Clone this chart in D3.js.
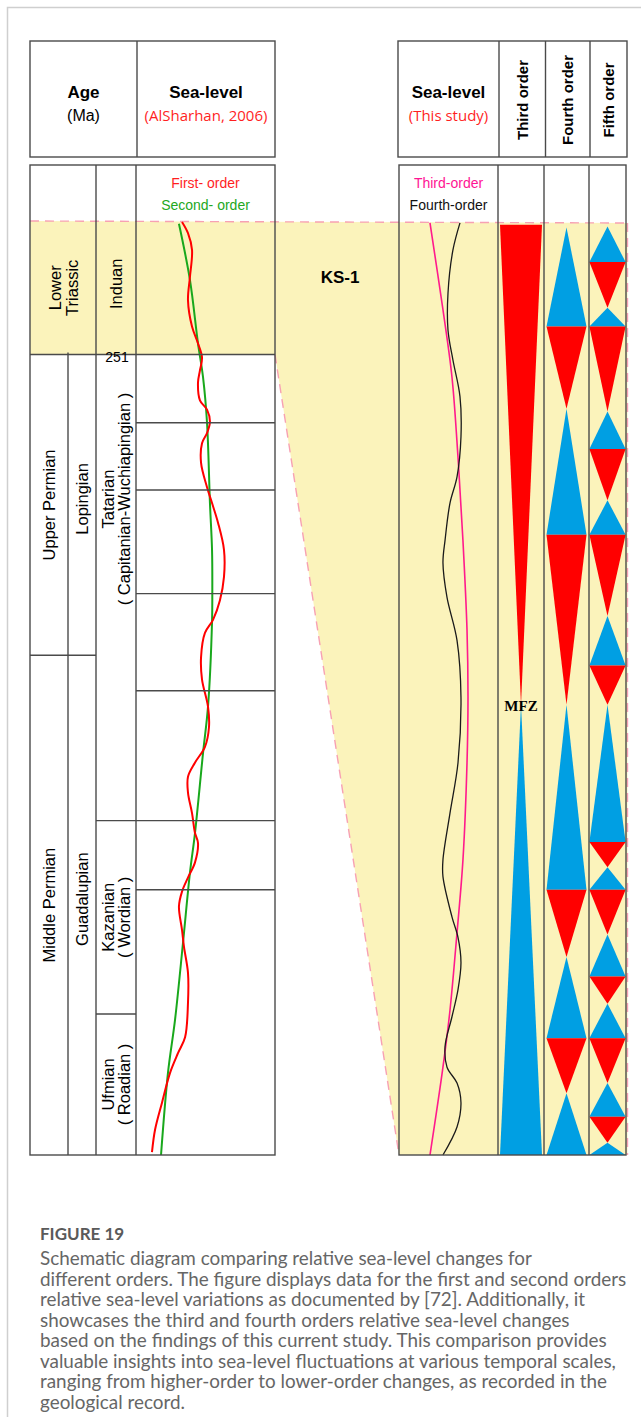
<!DOCTYPE html>
<html>
<head>
<meta charset="utf-8">
<script src="https://cdn.jsdelivr.net/npm/d3@7"></script>
<style>
  body { margin: 0; background: #fff; }
  svg { display: block; }
</style>
</head>
<body>
<svg id="chart" width="641" height="1417"></svg>
<script>
// Stratigraphic position: 0 = top of the studied interval, 100 = its base.
const seriesUnits = [
  { name: ["Lower", "Triassic"], top: 0, base: 14.3, spansEpoch: true },
  { name: ["Upper Permian"], top: 14.3, base: 46.5 },
  { name: ["Middle Permian"], top: 46.5, base: 100 }
];
const epochUnits = [
  { name: ["Lopingian"], top: 14.3, base: 46.5 },
  { name: ["Guadalupian"], top: 46.5, base: 100 }
];
const stageUnits = [
  { name: ["Induan"], top: 0, base: 14.3 },
  { name: ["Tatarian", "( Capitanian-Wuchiapingian )"], top: 14.3, base: 64.2 },
  { name: ["Kazanian", "( Wordian )"], top: 64.2, base: 84.9 },
  { name: ["Ufmian", "( Roadian )"], top: 84.9, base: 100 }
];
const ageTicks = [{ label: "251", pos: 14.3 }];
const alsharhanBeds = [14.3, 21.6, 28.8, 39.9, 50.3, 64.2, 71.6];

// AlSharhan (2006) sea-level curves: [position, relative level 0-100]
const firstOrder = [
  [0.1, 33.1], [1.3, 37.4], [3.1, 40.3], [6.0, 38.8], [8.5, 37.4], [11.3, 40.3],
  [13.1, 44.6], [14.6, 47.5], [16.0, 46.0], [17.3, 44.6], [19.2, 46.0], [20.2, 51.1],
  [21.5, 53.2], [22.7, 51.1], [23.8, 47.5], [25.9, 46.8], [28.5, 51.1], [30.2, 54.7],
  [32.3, 59.0], [35.2, 63.3], [38.1, 63.3], [40.6, 60.4], [42.7, 55.4], [44.1, 49.6],
  [46.7, 46.8], [49.1, 47.5], [52.0, 51.8], [54.2, 52.5], [56.3, 49.6], [58.0, 42.4],
  [59.5, 37.4], [61.2, 37.4], [63.4, 40.3], [65.5, 42.4], [66.6, 44.6], [68.7, 42.4],
  [70.3, 37.4], [71.8, 33.1], [73.4, 30.9], [75.9, 33.1], [77.7, 34.5], [80.5, 37.4],
  [83.7, 37.4], [87.4, 35.3], [89.1, 30.2], [91.2, 24.5], [94.4, 18.7], [97.3, 13.7],
  [99.7, 11.5]
];
const secondOrder = [
  [0.3, 30.9], [6.3, 38.8], [13.1, 44.6], [16.7, 48.2], [21.6, 51.1], [30.2, 53.2],
  [35.2, 54.7], [39.9, 54.9], [42.9, 54.7], [52.0, 51.8], [57.0, 48.2], [65.6, 42.4],
  [69.8, 38.8], [77.3, 33.8], [85.5, 28.1], [91.2, 23.0], [100, 18.0]
];

// Sea-level curves of this study: [position, relative level 0-100]
const thirdOrderCurve = [
  [0.2, 31.3], [9.5, 44.4], [16.7, 53.5], [25.3, 59.6], [34.2, 64.6], [43.8, 68.7],
  [51.0, 69.7], [58.0, 68.7], [68.4, 64.6], [76.2, 58.6], [84.5, 51.5], [90.6, 44.4],
  [100, 31.3]
];
const fourthOrderCurve = [
  [0.2, 61.6], [3.1, 54.5], [7.7, 49.5], [11.7, 49.5], [14.9, 54.5], [18.8, 61.6],
  [23.1, 62.6], [27.4, 58.6], [30.2, 51.5], [34.2, 46.5], [36.6, 44.4], [40.3, 48.5],
  [44.9, 58.6], [51.0, 62.6], [58.0, 59.6], [63.4, 51.5], [68.4, 44.4], [70.2, 44.4],
  [74.5, 53.5], [76.7, 59.6], [79.4, 62.6], [82.3, 59.6], [85.2, 53.5], [88.4, 46.5],
  [90.6, 48.5], [92.3, 58.6], [94.4, 62.6], [97.0, 58.6], [100, 44.4]
];

// Cycles: T = transgressive (apex at top), R = regressive (apex at base)
const thirdOrderCycles = [["R", 0.4, 51.8], ["T", 51.8, 100]];
const fourthOrderCycles = [
  ["T", 0.7, 11.3], ["R", 11.3, 20.1], ["T", 20.1, 33.6], ["R", 33.6, 51.8],
  ["T", 51.8, 71.6], ["R", 71.6, 78.8], ["T", 78.8, 87.5], ["R", 87.5, 93.4],
  ["T", 93.4, 100]
];
const fifthOrderCycles = [
  ["T", 0.6, 4.4], ["R", 4.4, 9.3], ["T", 9.3, 11.3], ["R", 11.3, 20.4],
  ["T", 20.4, 24.4], ["R", 24.4, 29.9], ["T", 29.9, 33.6], ["R", 33.6, 42.3],
  ["T", 42.3, 47.6], ["R", 47.6, 51.8], ["T", 51.8, 66.5], ["R", 66.5, 69.2],
  ["T", 69.2, 71.6], ["R", 71.6, 76.4], ["T", 76.4, 80.9], ["R", 80.9, 83.8],
  ["T", 83.8, 87.5], ["R", 87.5, 92.3], ["T", 92.3, 95.9], ["R", 95.9, 98.7],
  ["T", 98.7, 100]
];
const mfzPos = 51.8;

const captionTitle = "FIGURE 19";
const captionLines = [
  "Schematic diagram comparing relative sea-level changes for",
  "different orders. The figure displays data for the first and second orders",
  "relative sea-level variations as documented by [72]. Additionally, it",
  "showcases the third and fourth orders relative sea-level changes",
  "based on the findings of this current study. This comparison provides",
  "valuable insights into sea-level fluctuations at various temporal scales,",
  "ranging from higher-order to lower-order changes, as recorded in the",
  "geological record."
];

// ---------- layout ----------
const SANS = "'Liberation Sans', Arial, sans-serif";
const LINE = "#4a4a4a";
const YELLOW = "#fbf3bb";
const PINK = "#f7a1b3";
const RED = "#ff0000";
const BLUE = "#009fe3";

const L = { x0: 30, xEpoch: 68, xStage: 96, xSea: 136, x1: 275, top: 165, bottom: 1155 };
const R = { x0: 399, x1: 498, x2: 544, x3: 589, x4: 626, top: 165, bottom: 1155 };
const HEAD = { top: 41, bottom: 157 };

const y = d3.scaleLinear().domain([0, 100]).range([221, 1155]);
const xLeft = d3.scaleLinear().domain([0, 100]).range([L.xSea, L.x1]);
const xRight = d3.scaleLinear().domain([0, 100]).range([R.x0, R.x1]);

const svg = d3.select("#chart");
svg.append("rect").attr("width", 641).attr("height", 1417).attr("fill", "#fff");

// page frame
svg.append("path")
  .attr("d", "M641,7.5 H7.5 V1417")
  .attr("fill", "none").attr("stroke", "#cfcfcf").attr("stroke-width", 1.5);

// highlighted interval (Lower Triassic correlated into the KS-1 section)
const topY = y(0), trY = y(seriesUnits[0].base), baseY = y(100);
const xEdge = R.x4 + 1.5;
svg.append("polygon")
  .attr("points", [
    [L.x0, topY], [xEdge, topY + 2], [xEdge, baseY], [R.x0, baseY],
    [L.x1, trY], [L.x0, trY]
  ].map(p => p.join(",")).join(" "))
  .attr("fill", YELLOW);

const dash = svg.append("g").attr("fill", "none").attr("stroke", PINK)
  .attr("stroke-width", 1.4).attr("stroke-dasharray", "9,6");
dash.append("line").attr("x1", L.x0).attr("y1", topY).attr("x2", xEdge).attr("y2", topY + 2);
dash.append("line").attr("x1", L.x1).attr("y1", trY).attr("x2", R.x0).attr("y2", baseY);
dash.append("line").attr("x1", xEdge).attr("y1", topY + 2).attr("x2", xEdge).attr("y2", baseY);

// ---------- cycle triangles ----------
function drawCycles(cycles, left, right, pad) {
  const cx = (left + right) / 2, hw = (right - left) / 2 - pad;
  svg.append("g").selectAll("polygon").data(cycles).join("polygon")
    .attr("fill", d => d[0] === "T" ? BLUE : RED)
    .attr("points", d => {
      const t = y(d[1]), b = y(d[2]);
      const pts = d[0] === "T"
        ? [[cx, t], [cx - hw, b], [cx + hw, b]]
        : [[cx - hw, t], [cx + hw, t], [cx, b]];
      return pts.map(p => p.join(",")).join(" ");
    });
}
drawCycles(thirdOrderCycles, R.x1, R.x2, 2);
drawCycles(fourthOrderCycles, R.x2, R.x3, 2.5);
drawCycles(fifthOrderCycles, R.x3, R.x4, 0.4);

// ---------- curves ----------
const curveLeft = d3.line().x(d => xLeft(d[1])).y(d => y(d[0])).curve(d3.curveCatmullRom.alpha(0.5));
const curveRight = d3.line().x(d => xRight(d[1])).y(d => y(d[0])).curve(d3.curveCatmullRom.alpha(0.5));

svg.append("path").datum(secondOrder).attr("d", curveLeft)
  .attr("fill", "none").attr("stroke", "#19a81c").attr("stroke-width", 2);
svg.append("path").datum(firstOrder).attr("d", curveLeft)
  .attr("fill", "none").attr("stroke", RED).attr("stroke-width", 2);
svg.append("path").datum(thirdOrderCurve).attr("d", curveRight)
  .attr("fill", "none").attr("stroke", "#ff1a8c").attr("stroke-width", 1.6);
svg.append("path").datum(fourthOrderCurve).attr("d", curveRight)
  .attr("fill", "none").attr("stroke", "#1a1a1a").attr("stroke-width", 1.3);

// ---------- table grid ----------
const grid = svg.append("g").attr("stroke", LINE).attr("stroke-width", 1.4).attr("fill", "none");

// header boxes
grid.append("rect").attr("x", L.x0).attr("y", HEAD.top).attr("width", L.x1 - L.x0).attr("height", HEAD.bottom - HEAD.top);
grid.append("line").attr("x1", 137).attr("x2", 137).attr("y1", HEAD.top).attr("y2", HEAD.bottom);
grid.append("rect").attr("x", R.x0 - 1).attr("y", HEAD.top).attr("width", R.x4 - R.x0 + 2).attr("height", HEAD.bottom - HEAD.top);
[R.x1 + 1, R.x2 + 1.5, R.x3 + 1].forEach(x =>
  grid.append("line").attr("x1", x).attr("x2", x).attr("y1", HEAD.top).attr("y2", HEAD.bottom));

// left table
grid.append("rect").attr("x", L.x0).attr("y", L.top).attr("width", L.x1 - L.x0).attr("height", L.bottom - L.top);
[L.xStage, L.xSea].forEach(x =>
  grid.append("line").attr("x1", x).attr("x2", x).attr("y1", L.top).attr("y2", L.bottom));
grid.append("line").attr("x1", L.xEpoch).attr("x2", L.xEpoch)
  .attr("y1", y(epochUnits[0].top) - 2).attr("y2", L.bottom);
seriesUnits.slice(0, -1).forEach(u =>
  grid.append("line").attr("x1", L.x0).attr("x2", L.xStage).attr("y1", y(u.base)).attr("y2", y(u.base)));
stageUnits.slice(0, -1).forEach(u =>
  grid.append("line").attr("x1", L.xStage).attr("x2", L.xSea).attr("y1", y(u.base)).attr("y2", y(u.base)));
alsharhanBeds.forEach(p =>
  grid.append("line").attr("x1", L.xSea).attr("x2", L.x1).attr("y1", y(p)).attr("y2", y(p)));

// right table
grid.append("rect").attr("x", R.x0).attr("y", R.top).attr("width", R.x4 - R.x0).attr("height", R.bottom - R.top);
[R.x1, R.x2, R.x3].forEach(x =>
  grid.append("line").attr("x1", x).attr("x2", x).attr("y1", R.top).attr("y2", R.bottom));

// ---------- text ----------
function txt(x, yy, s, opts = {}) {
  return svg.append("text")
    .attr("x", x).attr("y", yy)
    .attr("text-anchor", opts.anchor || "middle")
    .attr("font-family", opts.family || SANS)
    .attr("font-size", opts.size || 14)
    .attr("font-weight", opts.weight || "normal")
    .attr("fill", opts.fill || "#000")
    .text(s);
}
function rotatedLabel(cx, cy, lines, size, gap) {
  const g = svg.append("g").attr("transform", `translate(${cx},${cy}) rotate(-90)`);
  lines.forEach((s, i) => {
    g.append("text")
      .attr("x", 0).attr("y", (i - (lines.length - 1) / 2) * gap)
      .attr("dominant-baseline", "central")
      .attr("text-anchor", "middle")
      .attr("font-family", SANS).attr("font-size", size)
      .attr("fill", "#000")
      .text(s);
  });
}

// headers
txt((L.x0 + 137) / 2, 98, "Age", { size: 17, weight: "bold" });
txt((L.x0 + 137) / 2, 121, "(Ma)", { size: 16 });
txt((137 + L.x1) / 2, 98, "Sea-level", { size: 17, weight: "bold" });
txt((137 + L.x1) / 2, 121, "(AlSharhan, 2006)", { size: 15, fill: "#ff1f1f", family: "'Open Sans', sans-serif" });
txt((R.x0 + R.x1) / 2, 98, "Sea-level", { size: 17, weight: "bold" });
txt((R.x0 + R.x1) / 2, 121, "(This study)", { size: 15, fill: "#ff1f1f", family: "'Open Sans', sans-serif" });

[["Third order", R.x1 + 1, R.x2 + 1.5], ["Fourth order", R.x2 + 1.5, R.x3 + 1], ["Fifth order", R.x3 + 1, R.x4 + 1]]
  .forEach(([s, a, b]) => {
    svg.append("text")
      .attr("transform", `translate(${(a + b) / 2 + 5.5},100) rotate(-90)`)
      .attr("text-anchor", "middle")
      .attr("font-family", SANS).attr("font-size", 15).attr("font-weight", "bold")
      .text(s);
  });

// legends
txt((L.xSea + L.x1) / 2, 188, "First- order", { size: 14, fill: "#ff1f1f" });
txt((L.xSea + L.x1) / 2, 210, "Second- order", { size: 14, fill: "#23a823" });
txt((R.x0 + R.x1) / 2, 188, "Third-order", { size: 14, fill: "#ff1493" });
txt((R.x0 + R.x1) / 2, 210, "Fourth-order", { size: 14, fill: "#111" });

// chronostratigraphic labels
seriesUnits.forEach(u => {
  const right = u.spansEpoch ? L.xStage : L.xEpoch;
  rotatedLabel((L.x0 + right) / 2, (y(u.top) + y(u.base)) / 2, u.name, 16.5, 17);
});
epochUnits.forEach(u => {
  rotatedLabel((L.xEpoch + L.xStage) / 2, (y(u.top) + y(u.base)) / 2 - 6, u.name, 16.5, 17);
});
// Tatarian's label sits in the upper part of its tall cell
const stageAnchor = { Tatarian: 0.31 };
stageUnits.forEach(u => {
  const f = stageAnchor[u.name[0]] ?? 0.5;
  const cy = y(u.top) + (y(u.base) - y(u.top)) * f;
  rotatedLabel((L.xStage + L.xSea) / 2, u.name[0] === "Induan" ? cy - 4 : cy, u.name, 16.5, 16.5);
});
ageTicks.forEach(t => txt((L.xStage + L.xSea) / 2 + 1, y(t.pos) + 7, t.label, { size: 14 }));

txt(340, 283, "KS-1", { size: 17, weight: "bold" });
txt((R.x1 + R.x2) / 2, y(mfzPos) + 6, "MFZ", { size: 15, weight: "bold", family: "'Liberation Serif', 'Times New Roman', serif" });

// ---------- caption ----------
const cap = svg.append("g").attr("font-family", "Lato, 'Open Sans', sans-serif").attr("fill", "#666");
const probe = cap.append("text").attr("font-size", 16).text(captionLines[1]);
const capSize = 16 * 587 / probe.node().getComputedTextLength();
probe.remove();
cap.append("text").attr("x", 40).attr("y", 1240)
  .attr("font-size", 17).attr("font-weight", 700).attr("fill", "#5a5a5a")
  .text(captionTitle);
captionLines.forEach((s, i) => {
  cap.append("text").attr("x", 40).attr("y", 1265 + i * 20.5)
    .attr("font-size", capSize).text(s);
});
</script>
</body>
</html>
